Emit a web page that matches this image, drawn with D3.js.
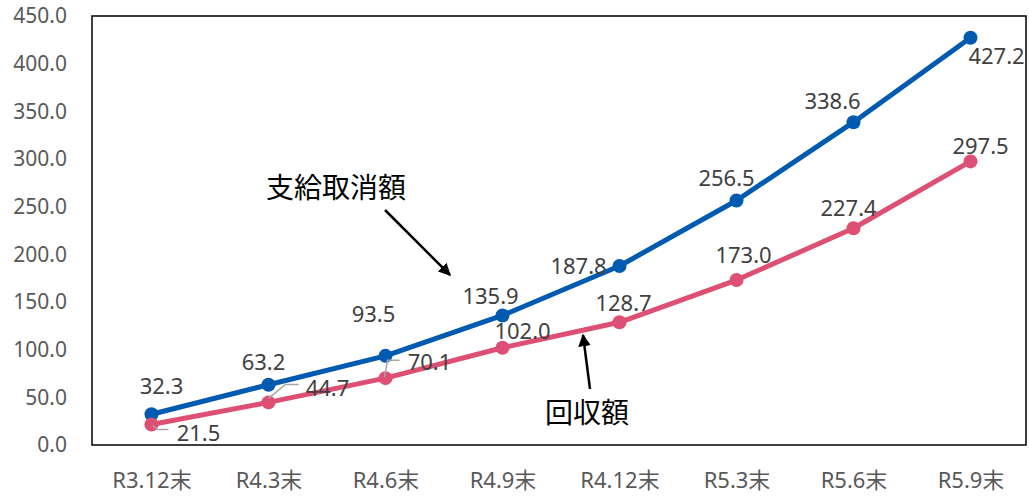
<!DOCTYPE html>
<html><head><meta charset="utf-8">
<script src="https://cdn.jsdelivr.net/npm/d3@7"></script>
<style>body{margin:0;background:#fff}svg{display:block}</style>
</head><body><svg id="c" width="1029" height="496"></svg>
<script>
const categories = ["R3.12末","R4.3末","R4.6末","R4.9末","R4.12末","R5.3末","R5.6末","R5.9末"];
const cancelValues = [32.3,63.2,93.5,135.9,187.8,256.5,338.6,427.2];
const recoverValues = [21.5,44.7,70.1,102.0,128.7,173.0,227.4,297.5];
const yTicks = [0,50,100,150,200,250,300,350,400,450];
// label offsets (dx, dy) relative to point
const cancelLabelOff = [[10,-29],[-5,-24],[-12,-43],[-12,-20],[-41,-1],[-10,-23],[-21,-22],[26,17]];
const recoverLabelOff = [[47,7],[59,-15],[44,-17],[20,-18],[4,-20],[7,-26],[-5,-21],[10,-16]];

const svg = d3.select("#c");
const m = {l:92, r:1026, t:16, b:445};
const font = "'Noto Sans','Noto Sans CJK JP',sans-serif";
const x = d3.scalePoint().domain(categories).range([93, 1029]).padding(0.5);
const y = d3.scaleLinear().domain([0,450]).range([m.b, m.t]);

// frame
svg.append("rect").attr("x",m.l).attr("y",m.t).attr("width",m.r-m.l).attr("height",m.b-m.t)
  .attr("fill","none").attr("stroke","#000").attr("stroke-width",1.5);

// y axis
const ya = svg.append("g").attr("transform",`translate(${m.l},0)`)
  .call(d3.axisLeft(y).tickValues(yTicks).tickFormat(d3.format(".1f")).tickSize(0).tickPadding(25));
ya.select(".domain").remove();
ya.selectAll("text").attr("font-family",font).attr("font-size",21).attr("fill","#595959");

// x axis
const xa = svg.append("g").attr("transform",`translate(0,${m.b})`)
  .call(d3.axisBottom(x).tickSize(0).tickPadding(27));
xa.select(".domain").remove();
xa.selectAll("text").attr("font-family",font).attr("font-size",22).attr("fill","#595959");

function series(vals, color){
  const line = d3.line().x((d,i)=>x(categories[i])).y(d=>y(d));
  svg.append("path").datum(vals).attr("d",line).attr("fill","none")
    .attr("stroke",color).attr("stroke-width",5).attr("stroke-linejoin","round");
  svg.append("g").selectAll("circle").data(vals).join("circle")
    .attr("cx",(d,i)=>x(categories[i])).attr("cy",d=>y(d)).attr("r",7).attr("fill",color);
}
series(cancelValues,"#005bb0");
series(recoverValues,"#dd5073");

// leader lines for first three recovery labels
const leaders = [[[1,1],[6,5],[17,5]],[[0,-4],[17,-18],[30,-18]],[[-1,-1],[2,-18],[14,-18]]];
leaders.forEach((pts,i)=>{
  const px = x(categories[i]), py = y(recoverValues[i]);
  svg.append("path").attr("d",d3.line()(pts.map(p=>[px+p[0],py+p[1]])))
    .attr("fill","none").attr("stroke","#a6a6a6").attr("stroke-width",1.5);
});

function labels(vals, offs){
  svg.append("g").selectAll("text").data(vals).join("text")
    .attr("x",(d,i)=>x(categories[i])+offs[i][0])
    .attr("y",(d,i)=>y(d)+offs[i][1])
    .attr("text-anchor","middle").attr("dominant-baseline","central")
    .attr("font-family",font).attr("font-size",22).attr("fill","#404040")
    .text(d=>d3.format(".1f")(d));
}
labels(cancelValues, cancelLabelOff);
labels(recoverValues, recoverLabelOff);

// annotations
const defs = svg.append("defs");
defs.append("marker").attr("id","ah").attr("viewBox","0 0 10 10").attr("refX",9).attr("refY",5)
  .attr("markerWidth",5).attr("markerHeight",5).attr("orient","auto")
  .append("path").attr("d","M0,0L10,5L0,10z").attr("fill","#000");
svg.append("text").attr("x",336).attr("y",186).attr("text-anchor","middle").attr("dominant-baseline","central")
  .attr("font-family","'Noto Sans CJK JP',sans-serif").attr("font-size",28).attr("fill","#000").text("支給取消額");
svg.append("line").attr("x1",385).attr("y1",210).attr("x2",450).attr("y2",275)
  .attr("stroke","#000").attr("stroke-width",2.5).attr("marker-end","url(#ah)");
svg.append("text").attr("x",587).attr("y",411).attr("text-anchor","middle").attr("dominant-baseline","central")
  .attr("font-family","'Noto Sans CJK JP',sans-serif").attr("font-size",28).attr("fill","#000").text("回収額");
svg.append("line").attr("x1",590).attr("y1",389).attr("x2",583).attr("y2",335)
  .attr("stroke","#000").attr("stroke-width",2.5).attr("marker-end","url(#ah)");
</script></body></html>
